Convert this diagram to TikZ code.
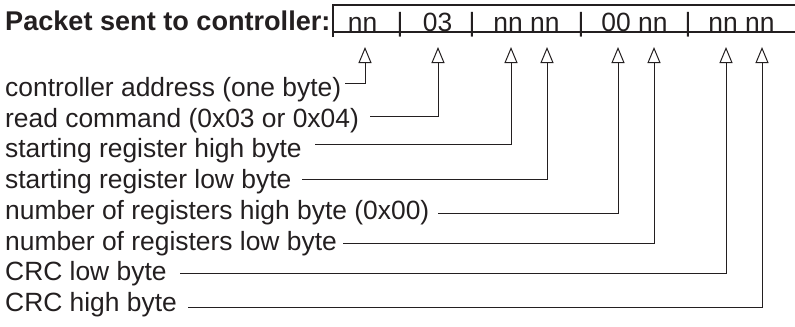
\documentclass[tikz,border=0pt]{standalone}
\usepackage{fontspec}
\setmainfont{Liberation Sans}
\usetikzlibrary{arrows.meta}
\definecolor{ink}{HTML}{231F20}
\begin{document}
\begin{tikzpicture}[x=1bp,y=-1bp,
  lbl/.style={anchor=base west, inner sep=0pt, text=ink, font=\fontsize{26.5}{30}\selectfont},
  pk/.style={anchor=base, inner sep=0pt, text=ink, font=\fontsize{26.5}{30}\selectfont},
  ttl/.style={anchor=base west, inner sep=0pt, text=ink, font=\bfseries\fontsize{27.2}{30}\selectfont},
  conn/.style={draw=ink, line width=1bp, -{Triangle[open, length=16bp, width=13bp, line width=1bp]}},
  boxline/.style={draw=ink, line width=2bp}]
\useasboundingbox (0,0) rectangle (795,326);
% title
\node[ttl] (title) at (5,30) {Packet sent to controller:};
% packet frame
\coordinate (bTL) at (333,5);
\coordinate (bBL) at (333,37);
\coordinate (bTR) at (795,5);
\coordinate (uL) at (333,32);
\coordinate (uR) at (795,32);
\draw[boxline] (bBL) -- (bTL) -- (bTR);
\draw[draw=ink, line width=1.5bp] (uL) -- (uR);
% packet text
\node[pk] (p1) at (362.5,31) {nn};
\node[pk] (s1) at (400,31) {|};
\node[pk] (p2) at (437.5,31) {03};
\node[pk] (s2) at (472,31) {|};
\node[pk] (p3) at (526.5,31) {nn nn};
\node[pk] (s3) at (581,31) {|};
\node[pk] (p4) at (634.5,31) {00 nn};
\node[pk] (s4) at (688,31) {|};
\node[pk] (p5) at (741.5,31) {nn nn};
% labels
\node[lbl] (l1) at (5,96.5) {controller address (one byte)};
\node[lbl] (l2) at (5,127.2) {read command (0x03 or 0x04)};
\node[lbl] (l3) at (5,157.9) {starting register high byte};
\node[lbl] (l4) at (5,188.6) {starting register low byte};
\node[lbl] (l5) at (5,219.3) {number of registers high byte (0x00)};
\node[lbl] (l6) at (5,250) {number of registers low byte};
\node[lbl] (l7) at (5,280.7) {CRC low byte};
\node[lbl] (l8) at (5,311.4) {CRC high byte};
% arrow tips
\coordinate (t1) at (365,47);
\coordinate (t2) at (438,47);
\coordinate (t3) at (511,47);
\coordinate (t4) at (547,47);
\coordinate (t5) at (618,47);
\coordinate (t6) at (654,47);
\coordinate (t7) at (726,47);
\coordinate (t8) at (762,47);
% line starts
\coordinate (h1) at (345,83);
\coordinate (h2) at (370,116);
\coordinate (h3) at (315,144);
\coordinate (h4) at (302,179);
\coordinate (h5) at (438,213);
\coordinate (h6) at (343,243);
\coordinate (h7) at (180,273);
\coordinate (h8) at (188,307);
\foreach \i in {1,...,8} {\draw[conn] (h\i) -| (t\i);}
\end{tikzpicture}
\end{document}
